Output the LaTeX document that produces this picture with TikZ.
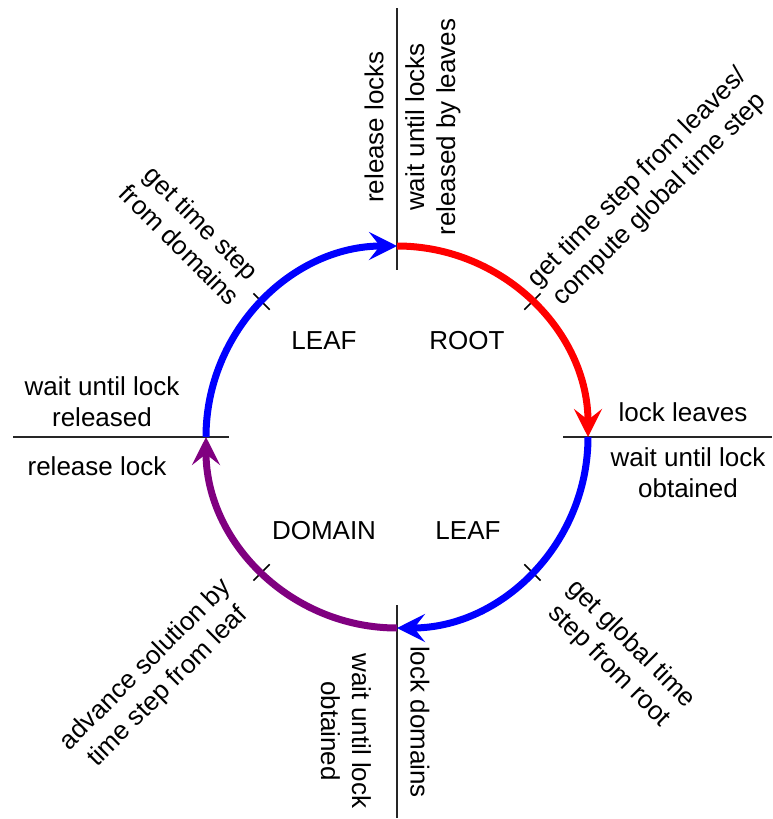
\documentclass[tikz,border=0pt]{standalone}
\usepackage{fontspec}
\setmainfont{Liberation Sans}
\usetikzlibrary{arrows.meta}
\definecolor{cpurple}{RGB}{128,0,128}
\definecolor{cred}{RGB}{255,0,0}
\definecolor{cblue}{RGB}{0,0,255}
\tikzset{
  ring/.style={line width=7pt, -{Stealth[length=28pt,width=28pt,inset=11pt]}},
  divider/.style={line width=1.5pt, black!85},
  tickmark/.style={line width=1.5pt, black},
  lbl/.style={inner sep=0pt, align=center, font=\fontsize{26}{31}\selectfont},
}
\begin{document}
\begin{tikzpicture}[x=1pt,y=1pt]
\useasboundingbox (0,0) rectangle (772,-819);
\fill[white] (0,0) rectangle (772,-819);
\coordinate (C) at (397,-437);
\coordinate (T) at (397,-246);
\coordinate (R) at (588,-437);
\coordinate (B) at (397,-628);
\coordinate (L) at (206,-437);
% divider lines
\coordinate (t1) at (397,-8);   \coordinate (t2) at (397,-270);
\coordinate (r1) at (563,-437); \coordinate (r2) at (772,-437);
\coordinate (b1) at (397,-605); \coordinate (b2) at (397,-818);
\coordinate (l1) at (13,-437);  \coordinate (l2) at (229,-437);
\draw[divider] (t1) -- (t2);
\draw[divider] (r1) -- (r2);
\draw[divider] (b1) -- (b2);
\draw[divider] (l1) -- (l2);
% ticks
\foreach \a in {45,135,225,315}{
  \draw[tickmark] ([shift={(\a:180pt)}]C) -- ([shift={(\a:203pt)}]C);
}
% arcs
\draw[ring, cred] (T) arc[start angle=90, end angle=0, radius=191pt];
\draw[ring, cblue] (R) arc[start angle=0, end angle=-90, radius=191pt];
\draw[ring, cpurple] (B) arc[start angle=270, end angle=180, radius=191pt];
\draw[ring, cblue] (L) arc[start angle=180, end angle=90, radius=191pt];
% quadrant labels
\node[lbl] (leaf1) at (324,-341) {LEAF};
\node[lbl] (root) at (467,-341) {ROOT};
\node[lbl] (domain) at (324,-531) {DOMAIN};
\node[lbl] (leaf2) at (468,-531) {LEAF};
% top
\node[lbl, rotate=90] (rellocks) at (374,-127) {release locks};
\node[lbl, rotate=90] (waitlocks) at (433,-127) {wait until locks\\released by leaves};
% right
\node[lbl] (lockleaves) at (683,-412) {lock leaves};
\node[lbl] (waitR) at (688,-473) {wait until lock\\obtained};
% bottom
\node[lbl, rotate=-90] (lockdom) at (420,-722) {lock domains};
\node[lbl, rotate=-90] (waitB) at (346,-731) {wait until lock\\obtained};
% left
\node[lbl] (waitL) at (102,-402) {wait until lock\\released};
\node[lbl] (rellock) at (97,-466) {release lock};
% diagonals
\node[lbl, rotate=45] (ne) at (649,-189) {get time step from leaves/\\compute global time step};
\node[lbl, rotate=-45] (se) at (620,-655) {get global time\\step from root};
\node[lbl, rotate=45] (sw) at (157,-676) {advance solution by\\time step from leaf};
\node[lbl, rotate=-45] (nw) at (191,-234) {get time step\\from domains};
\end{tikzpicture}
\end{document}
